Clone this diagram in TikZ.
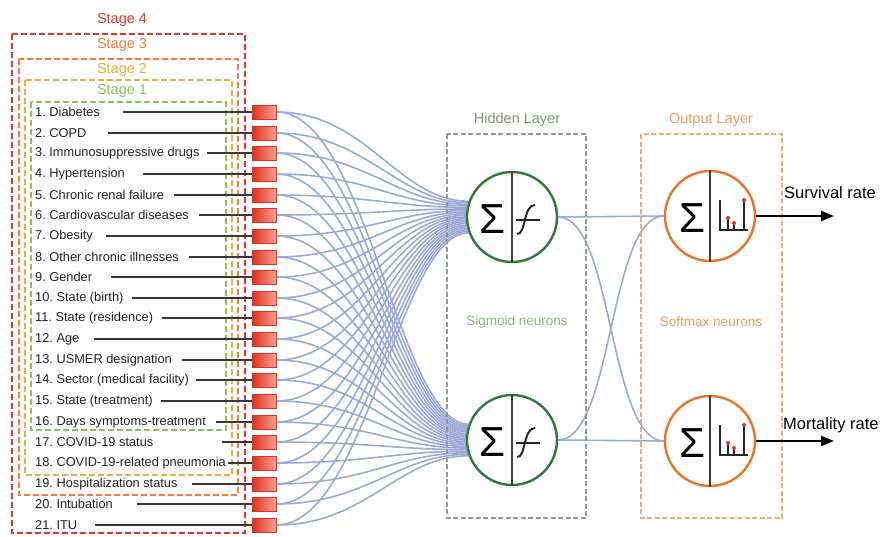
\documentclass[tikz,border=0pt]{standalone}
\usepackage{fontspec}
\setmainfont{Liberation Sans}
\usetikzlibrary{arrows.meta,calc}
\definecolor{sfour}{HTML}{E5352B}
\definecolor{sthree}{HTML}{F07D3C}
\definecolor{stwo}{HTML}{E6B03A}
\definecolor{sone}{HTML}{8FBF5A}
\definecolor{hcol}{HTML}{8F9E8A}
\definecolor{hlab}{HTML}{7F9580}
\definecolor{hsub}{HTML}{8DB77E}
\definecolor{ocol}{HTML}{F2A878}
\definecolor{olab}{HTML}{EE9A60}
\definecolor{gcirc}{HTML}{2F7A3A}
\definecolor{ocirc}{HTML}{E8742A}
\definecolor{conncol}{HTML}{9AA9D8}
\definecolor{boxred}{HTML}{E0301F}
\definecolor{boxlight}{HTML}{F7A08C}
\definecolor{txt}{HTML}{222222}
\pgfdeclarelayer{bg}
\pgfdeclarelayer{paper}
\pgfsetlayers{paper,bg,main}
\tikzset{
  stagebox/.style={line width=2.2pt, dash pattern=on 6pt off 3pt},
  stagelab/.style={font=\fontsize{14.5}{16}\selectfont},
  itemtext/.style={anchor=west, inner sep=0pt, text=txt, font=\fontsize{12.8}{14}\selectfont},
  itemline/.style={line width=1.6pt, draw=txt!90},
  inbox/.style={minimum width=24pt, minimum height=14pt, inner sep=0pt, draw=boxred, line width=1pt, left color=boxred, right color=boxlight},
  conn/.style={line width=1.6pt, draw=conncol},
  layerbox/.style={line width=1.8pt, dash pattern=on 5pt off 2.5pt},
  layerlab/.style={font=\fontsize{14.5}{16}\selectfont},
  sublab/.style={font=\fontsize{13.5}{15}\selectfont},
  hneuron/.style={circle, minimum size=90pt, inner sep=0pt, draw=gcirc, line width=2.4pt, fill=white},
  oneuron/.style={circle, minimum size=90pt, inner sep=0pt, draw=ocirc, line width=2.4pt, fill=white},
  divider/.style={line width=1.5pt, draw=black!75},
  sigmasym/.style={inner sep=0pt, font=\fontsize{42}{44}\selectfont},
  symline/.style={line width=2pt, draw=black!85},
  outarrow/.style={line width=2.2pt, -{Triangle[length=13pt,width=10pt]}},
  outlab/.style={anchor=west, inner sep=0pt, font=\fontsize{16.5}{18}\selectfont}
}
\frenchspacing
\begin{document}
\begin{tikzpicture}[x=1pt,y=-1pt]
\useasboundingbox (0,0) rectangle (889,536);
\begin{pgfonlayer}{paper}
\fill[white] (0,0) rectangle (889,536);
\end{pgfonlayer}
% stage boxes
\draw[stagebox, sfour] (12,34) rectangle (245,533);
\draw[stagebox, sthree] (19,59) rectangle (238,495);
\draw[stagebox, stwo] (25,80) rectangle (232,475);
\draw[stagebox, sone] (31,102) rectangle (226,430);
\node[stagelab, text=sfour] (lab4) at (122,20) {Stage 4};
\node[stagelab, text=sthree] (lab3) at (122,45) {Stage 3};
\node[stagelab, text=stwo] (lab2) at (122,70) {Stage 2};
\node[stagelab, text=sone] (lab1) at (122,91) {Stage 1};
% inputs
\foreach \i/\t/\lx in {1/Diabetes/123, 2/COPD/108, 3/Immunosuppressive drugs/207, 4/Hypertension/143,
  5/Chronic renal failure/174, 6/Cardiovascular diseases/199, 7/Obesity/106, 8/Other chronic illnesses/189,
  9/Gender/111, 10/State (birth)/132, 11/State (residence)/162, 12/Age/94, 13/USMER designation/182,
  14/Sector (medical facility)/196, 15/State (treatment)/161, 16/Days symptoms-treatment/216,
  17/COVID-19 status/222, 18/COVID-19-related pneumonia/228, 19/Hospitalization status/192,
  20/Intubation/137, 21/ITU/95}{
  \pgfmathsetmacro\yy{round(112+(\i-1)*20.65)}
  \node[itemtext] (t\i) at (35,\yy) {\i. \t};
  \node[inbox] (b\i) at (264,\yy) {};
  \coordinate (ls\i) at (\lx,\yy);
  \draw[itemline] (ls\i) -- (b\i.west);
}
% layer boxes
\draw[layerbox, hcol] (447,134) rectangle (586,518);
\draw[layerbox, ocol] (641,134) rectangle (782,518);
\node[layerlab, text=hlab] (hl) at (517,120) {Hidden Layer};
\node[layerlab, text=olab] (ol) at (711,120) {Output Layer};
\node[sublab, text=hsub] (sn) at (517,322) {Sigmoid neurons};
\node[sublab, text=olab] (smn) at (711,322) {Softmax neurons};
% neurons
\node[hneuron] (h1) at (512,217) {};
\node[hneuron] (h2) at (512,440) {};
\node[oneuron] (o1) at (710,216) {};
\node[oneuron] (o2) at (710,441) {};
\foreach \n in {h1,h2}{
  \draw[divider] (\n.north) -- (\n.south);
  \node[sigmasym] (sg\n) at ($(\n.center)+(-20,2)$) {Σ};
  \draw[symline] ($(\n.center)+(4,3)$) -- ($(\n.center)+(28,3)$);
  \draw[symline] ($(\n.center)+(5,17)$) .. controls ($(\n.center)+(14,18)$) and ($(\n.center)+(11,-12)$) .. ($(\n.center)+(23,-12)$);
}
\foreach \n in {o1,o2}{
  \draw[divider] (\n.north) -- (\n.south);
  \node[sigmasym] (sg\n) at ($(\n.center)+(-18,2)$) {Σ};
  \draw[symline, line width=1.5pt] ($(\n.center)+(10,-16)$) -- ($(\n.center)+(10,14)$) -- ($(\n.center)+(38,14)$);
  \draw[symline, line width=1.3pt] ($(\n.center)+(18,14)$) -- ($(\n.center)+(18,2)$);
  \draw[symline, line width=1.3pt] ($(\n.center)+(24,14)$) -- ($(\n.center)+(24,7)$);
  \draw[symline, line width=1.3pt] ($(\n.center)+(34,14)$) -- ($(\n.center)+(34,-16)$);
  \fill[boxred] ($(\n.center)+(18,2)$) circle (2pt);
  \fill[boxred] ($(\n.center)+(24,7)$) circle (2pt);
  \fill[boxred] ($(\n.center)+(34,-16)$) circle (2pt);
}
% connections
\begin{pgfonlayer}{bg}
\foreach \i in {1,...,21}{
  \pgfmathtruncatemacro\a{160+(\i-1)*2}
  \draw[conn] (b\i.east) .. controls +(90,0) and +(-70,0) .. (h1.\a);
  \draw[conn] (b\i.east) .. controls +(90,0) and +(-70,0) .. (h2.\a);
}
\draw[conn] (h1.east) -- (o1.west);
\draw[conn] (h2.east) -- (o2.west);
\draw[conn] (h1.east) .. controls +(55,0) and +(-55,0) .. (o2.west);
\draw[conn] (h2.east) .. controls +(55,0) and +(-55,0) .. (o1.west);
\end{pgfonlayer}
% outputs
\coordinate (ar1) at (834,216);
\coordinate (ar2) at (834,441);
\draw[outarrow] (o1.east) -- (ar1);
\draw[outarrow] (o2.east) -- (ar2);
\node[outlab] (sr) at (784,193) {Survival rate};
\node[outlab] (mr) at (783,425) {Mortality rate};
\end{tikzpicture}
\end{document}
